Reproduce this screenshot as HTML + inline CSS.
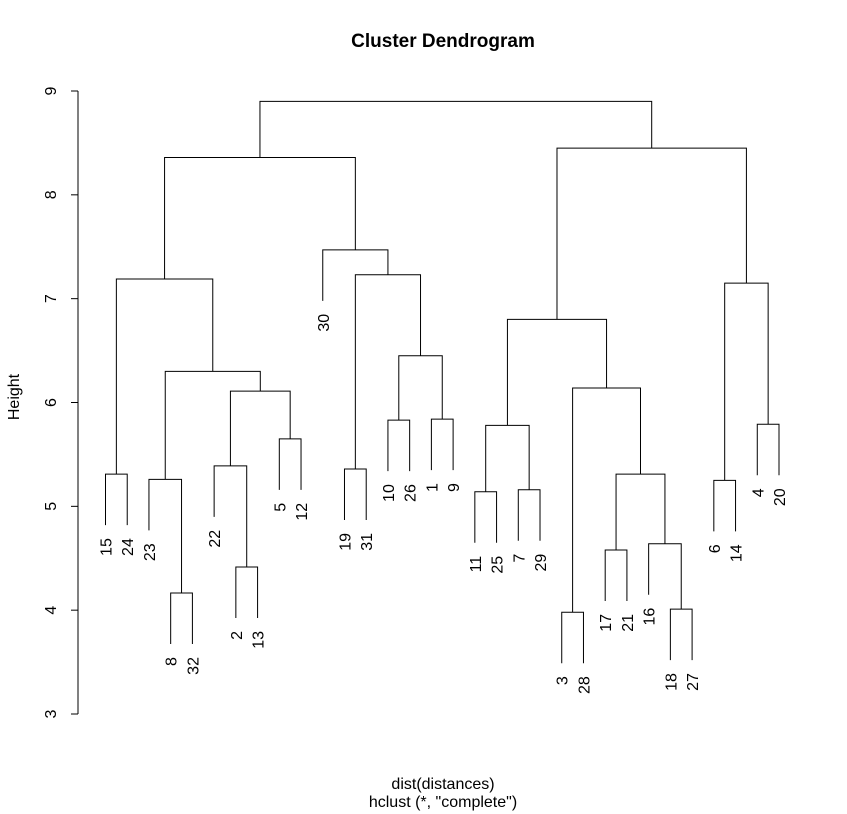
<!DOCTYPE html>
<html><head><meta charset="utf-8"><style>
body{margin:0;background:#fff}
svg{display:block;font-family:"Liberation Sans",sans-serif}
</style></head><body>
<svg id="c" width="847" height="814"></svg>
<script>
const leafOrder=[15,24,23,8,32,22,2,13,5,12,30,19,31,10,26,1,9,11,25,7,29,3,28,17,21,16,18,27,6,14,4,20];
// merges: [left, right, height]; negative = leaf label, positive = merge index (1-based)
const mergeLeft=[-15,-8,-23,-2,-22,-5,5,3,1,-19,-10,-1,11,10,-30,9,-11,-7,17,-3,-17,-18,-16,21,20,19,-6,-4,27,26,16];
const mergeRight=[-24,-32,2,-13,4,-12,6,7,8,-31,-26,-9,12,13,14,15,-25,-29,18,-28,-21,-27,22,23,24,25,-14,-20,28,29,30];
const mergeHeight=[5.31,4.165,5.26,4.416,5.39,5.65,6.11,6.30,7.19,5.36,5.83,5.84,6.45,7.23,7.47,8.36,5.14,5.16,5.78,3.98,4.58,4.01,4.64,5.31,6.14,6.80,5.25,5.79,7.15,8.45,8.90];
const yTicks=[3,4,5,6,7,8,9];
const NS="http://www.w3.org/2000/svg",svg=document.getElementById('c');
const y=v=>714-(v-3)*(714-91)/6;
const x=i=>105.5+i*(779-105.5)/31;
const hang=51;
function el(t,a,p){const e=document.createElementNS(NS,t);for(const k in a)e.setAttribute(k,a[k]);(p||svg).appendChild(e);return e;}
const leafX={};leafOrder.forEach((l,i)=>leafX[l]=x(i));
const mx=[];
function pos(c){return c<0?{x:leafX[-c],leaf:true}:{x:mx[c-1],leaf:false};}
const g=el('g',{stroke:'#000','stroke-width':1,fill:'none'});


for(let i=0;i<mergeHeight.length;i++){
  const a=pos(mergeLeft[i]),b=pos(mergeRight[i]);
  const yh=y(mergeHeight[i]);
  const ya=a.leaf?yh+hang:y(mergeHeight[mergeLeft[i]-1]);
  const yb=b.leaf?yh+hang:y(mergeHeight[mergeRight[i]-1]);
  mx[i]=(a.x+b.x)/2;
  const p=el('path',{d:`M${a.x},${ya}V${yh}H${b.x}V${yb}`},g);
  
  
  [[a,mergeLeft[i],ya],[b,mergeRight[i],yb]].forEach(([q,c,ye])=>{
    if(!q.leaf)return;
    const t=el('text',{transform:`translate(${q.x+6},${ye+13}) rotate(-90)`,'text-anchor':'end','font-size':16,fill:'#000',stroke:'none'});
    t.textContent=-c;
    
    
  });
}
const ax=el('g',{stroke:'#000',fill:'none'});


el('line',{x1:78,x2:78,y1:y(9),y2:y(3)},ax);
yTicks.forEach(v=>{
  el('line',{x1:71,x2:78,y1:y(v),y2:y(v)},ax);
  const t=el('text',{transform:`translate(56,${y(v)}) rotate(-90)`,'text-anchor':'middle','font-size':16,fill:'#000',stroke:'none'});
  t.textContent=v;
  
  
});
let t=el('text',{transform:'translate(19,397) rotate(-90)','text-anchor':'middle','font-size':16});
t.textContent='Height';
t=el('text',{x:443,y:47,'text-anchor':'middle','font-size':19,'font-weight':'bold'});
t.textContent='Cluster Dendrogram';
t=el('text',{x:443,y:789,'text-anchor':'middle','font-size':16});
t.textContent='dist(distances)';
t=el('text',{x:443,y:807,'text-anchor':'middle','font-size':16});
t.textContent='hclust (*, "complete")';
</script>
</body></html>
